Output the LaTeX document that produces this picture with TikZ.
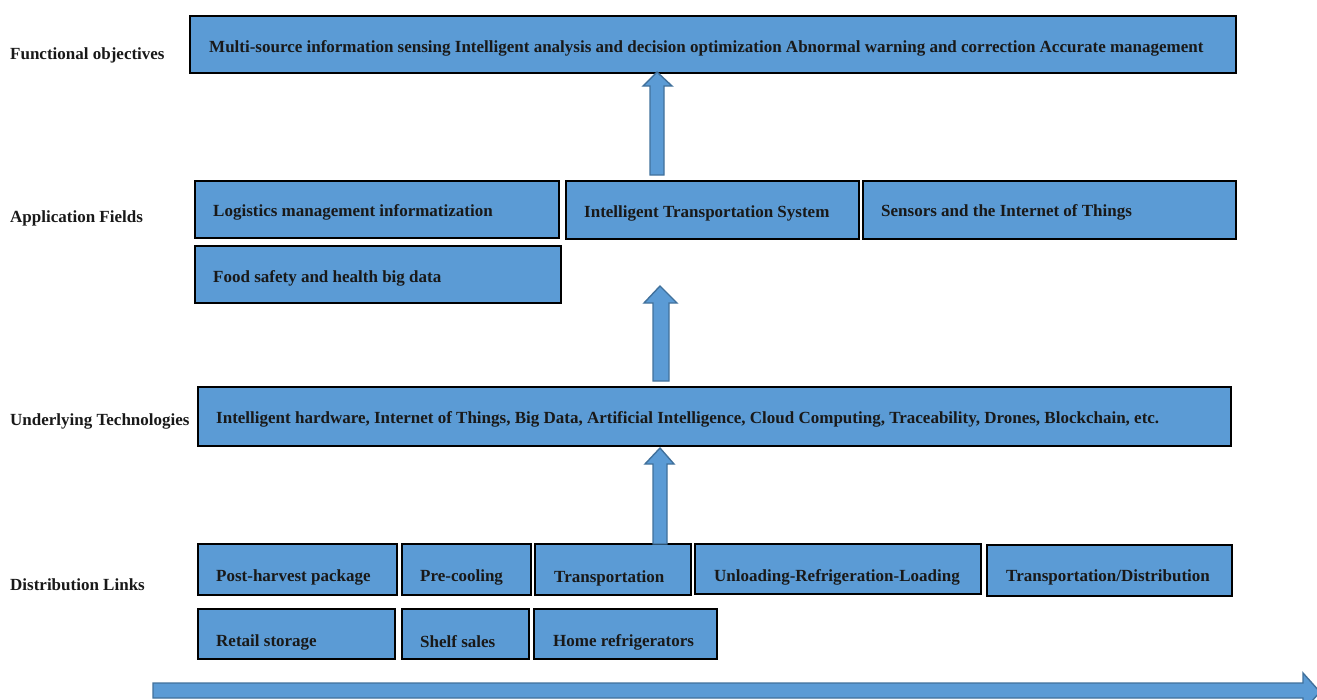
\documentclass[tikz,border=0pt]{standalone}
\usepackage{fontspec}
\setmainfont{Liberation Serif}
\definecolor{boxblue}{HTML}{5B9BD5}
\definecolor{arrowedge}{HTML}{41719C}
\begin{document}
\begin{tikzpicture}[x=1pt,y=-1pt,
  box/.style={draw=black, line width=1.6pt, fill=boxblue, inner sep=0pt, anchor=north west},
  txt/.style={font=\bfseries\fontsize{17}{19}\selectfont, anchor=west, inner sep=0pt, text=black!90},
  fat/.style={fill=boxblue, draw=arrowedge, line width=1.4pt, line join=miter}]
\useasboundingbox (0,0) rectangle (1317,699);
\clip (0,0) rectangle (1317,699);

% row labels
\node[txt] (lfo) at (10,55) {Functional objectives};
\node[txt] (laf) at (10,218) {Application Fields};
\node[txt] (lut) at (10,421) {Underlying Technologies};
\node[txt] (ldl) at (10,585) {Distribution Links};

% functional objectives
\node[box, minimum width=1046pt, minimum height=57pt] (fo) at (189,15) {};
\node[txt] (tfo) at (209,48) {Multi-source information sensing Intelligent analysis and decision optimization Abnormal warning and correction Accurate management};

% application fields
\node[box, minimum width=364pt, minimum height=57pt] (a1) at (194,180) {};
\node[box, minimum width=293pt, minimum height=58pt] (a2) at (565,180) {};
\node[box, minimum width=373pt, minimum height=58pt] (a3) at (862,180) {};
\node[box, minimum width=366pt, minimum height=57pt] (a4) at (194,245) {};
\node[txt] (ta1) at (213,212) {Logistics management informatization};
\node[txt] (ta2) at (584,213) {Intelligent Transportation System};
\node[txt] (ta3) at (881,212) {Sensors and the Internet of Things};
\node[txt] (ta4) at (213,278) {Food safety and health big data};

% underlying technologies
\node[box, minimum width=1033pt, minimum height=59pt] (ut) at (197,386) {};
\node[txt] (tut) at (216,419) {Intelligent hardware, Internet of Things, Big Data, Artificial Intelligence, Cloud Computing, Traceability, Drones, Blockchain, etc.};

% distribution links
\node[box, minimum width=199pt, minimum height=51pt] (d1) at (197,543) {};
\node[box, minimum width=129pt, minimum height=51pt] (d2) at (401,543) {};
\node[box, minimum width=156pt, minimum height=51pt] (d3) at (534,543) {};
\node[box, minimum width=286pt, minimum height=50pt] (d4) at (694,543) {};
\node[box, minimum width=245pt, minimum height=51pt] (d5) at (986,544) {};
\node[box, minimum width=197pt, minimum height=50pt] (d6) at (197,608) {};
\node[box, minimum width=127pt, minimum height=50pt] (d7) at (401,608) {};
\node[box, minimum width=183pt, minimum height=50pt] (d8) at (533,608) {};
\node[txt] (td1) at (216,577) {Post-harvest package};
\node[txt] (td2) at (420,577) {Pre-cooling};
\node[txt] (td3) at (554,578) {Transportation};
\node[txt] (td4) at (714,577) {Unloading-Refrigeration-Loading};
\node[txt] (td5) at (1006,577) {Transportation/Distribution};
\node[txt] (td6) at (216,642) {Retail storage};
\node[txt] (td7) at (420,642) {Shelf sales};
\node[txt] (td8) at (553,642) {Home refrigerators};

% block arrows (up)
\draw[fat] (650,175) -- (650,86) -- (643,86) -- (657,72) -- (672,86) -- (664,86) -- (664,175) -- cycle;
\draw[fat] (653,381) -- (653,303) -- (644,303) -- (660,286) -- (677,303) -- (669,303) -- (669,381) -- cycle;
\draw[fat] (653,544) -- (653,464) -- (645,464) -- (660,448) -- (674,464) -- (667,464) -- (667,544) -- cycle;

% bottom arrow
\draw[fat] (153,683) -- (1303,683) -- (1303,673) -- (1320,692) -- (1303,711) -- (1303,698) -- (153,698) -- cycle;
\end{tikzpicture}
\end{document}
